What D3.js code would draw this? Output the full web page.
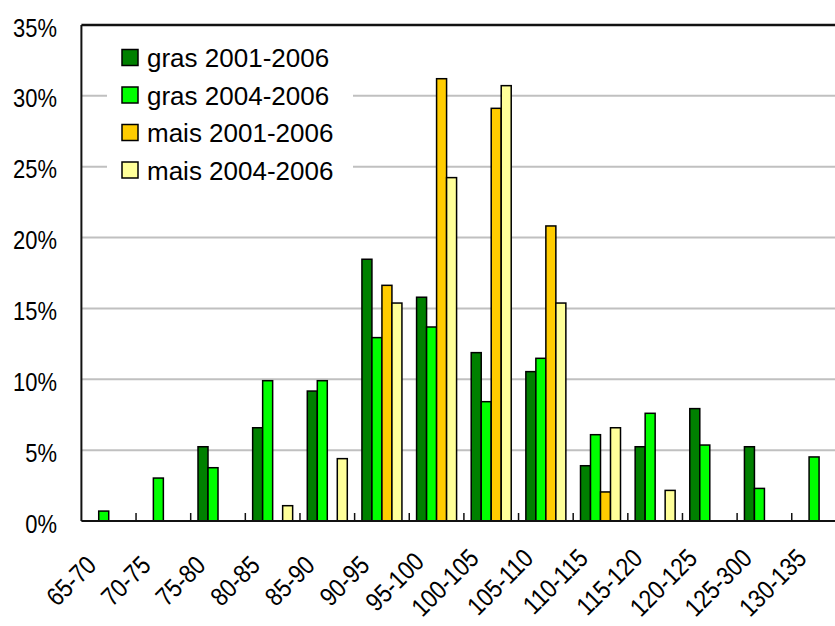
<!DOCTYPE html>
<html>
<head>
<meta charset="utf-8">
<script src="https://cdn.jsdelivr.net/npm/d3@7"></script>
<style>
  html, body { margin: 0; padding: 0; background: #fff; }
  svg { display: block; }
  text { font-family: "Liberation Sans", Arial, sans-serif; fill: #000; }
</style>
</head>
<body>
<svg id="chart" width="835" height="626"></svg>
<script>
// Size classes (index classes)
const categories = ["65-70", "70-75", "75-80", "80-85", "85-90", "90-95", "95-100",
  "100-105", "105-110", "110-115", "115-120", "120-125", "125-300", "130-135"];

const seriesNames = ["gras 2001-2006", "gras 2004-2006", "mais 2001-2006", "mais 2004-2006"];
const seriesColors = ["#008000", "#00ff00", "#ffcc00", "#ffff99"];

// Share of plots per class, in percent
const gras2001 = [0, 0, 5.24, 6.58, 9.17, 18.47, 15.79, 11.88, 10.54, 3.9, 5.24, 7.93, 5.24, 0];
const gras2004 = [0.7, 3.03, 3.76, 9.9, 9.9, 12.94, 13.69, 8.42, 11.48, 6.09, 7.6, 5.36, 2.3, 4.52];
const mais2001 = [0, 0, 0, 0, 0, 16.63, 31.21, 29.12, 20.82, 2.05, 0, 0, 0, 0];
const mais2004 = [0, 0, 0, 1.08, 4.4, 15.38, 24.23, 30.72, 15.38, 6.58, 2.16, 0, 0, 0];

const yTicks = [0, 5, 10, 15, 20, 25, 30, 35];

const seriesValues = [gras2001, gras2004, mais2001, mais2004];

const svg = d3.select("#chart");
const plotLeft = 81.4, plotRight = 846.4, plotTop = 25, plotBottom = 521;

const x = d3.scaleBand().domain(categories).range([plotLeft, plotRight])
  .paddingInner(0.268).paddingOuter(0.134);
const step = x.step();
const xs = d3.scaleBand().domain(seriesNames).range([0, x.bandwidth()]);
const y = d3.scaleLinear().domain([0, 35]).range([plotBottom, plotTop]);

// squeeze axis labels horizontally to a narrower face
function condense(sel, k) {
  sel.each(function () {
    const w = this.getComputedTextLength();
    d3.select(this).attr("textLength", w * k).attr("lengthAdjust", "spacingAndGlyphs");
  });
}

// horizontal gridlines
svg.append("g").selectAll("line")
  .data(yTicks.filter(t => t > 0 && t < 35))
  .join("line")
  .attr("x1", plotLeft).attr("x2", plotRight)
  .attr("y1", d => y(d)).attr("y2", d => y(d))
  .attr("stroke", "#c0c0c0").attr("stroke-width", 2);

// y labels
svg.append("g").selectAll("text")
  .data(yTicks)
  .join("text")
  .attr("x", 57)
  .attr("y", d => y(d) + 11.5)
  .attr("text-anchor", "end")
  .attr("font-size", 25.5)
  .text(d => d + "%")
  .call(condense, 0.86);

// legend (white panel over the gridlines)
const legend = svg.append("g");
legend.append("rect")
  .attr("x", 107).attr("y", 38).attr("width", 246).attr("height", 146)
  .attr("fill", "#fff");
seriesNames.forEach((name, i) => {
  const ty = 49.5 + i * 37.5;
  legend.append("rect")
    .attr("x", 122).attr("y", ty).attr("width", 16).attr("height", 16)
    .attr("fill", seriesColors[i]).attr("stroke", "#000").attr("stroke-width", 1.5);
  legend.append("text")
    .attr("x", 147).attr("y", ty + 17.5)
    .attr("font-size", 26)
    .text(name);
});

// bars
seriesNames.forEach((name, si) => {
  const data = categories.map((c, ci) => ({ c, v: seriesValues[si][ci] })).filter(d => d.v > 0);
  svg.append("g").selectAll("rect")
    .data(data)
    .join("rect")
    .attr("x", d => x(d.c) + xs(name))
    .attr("width", xs.bandwidth())
    .attr("y", d => y(d.v))
    .attr("height", d => y(0) - y(d.v))
    .attr("fill", seriesColors[si])
    .attr("stroke", "#000").attr("stroke-width", 1.5);
});

// frame: top border, left and bottom axes
svg.append("line").attr("x1", plotLeft).attr("x2", plotRight).attr("y1", plotTop).attr("y2", plotTop)
  .attr("stroke", "#111").attr("stroke-width", 2.5);
svg.append("line").attr("x1", plotLeft).attr("x2", plotLeft).attr("y1", plotTop).attr("y2", plotBottom)
  .attr("stroke", "#111").attr("stroke-width", 2);
svg.append("line").attr("x1", plotLeft).attr("x2", plotRight).attr("y1", plotBottom).attr("y2", plotBottom)
  .attr("stroke", "#111").attr("stroke-width", 2);

// category boundary ticks, pointing up into the plot
svg.append("g").selectAll("line")
  .data(categories.slice(1))
  .join("line")
  .attr("x1", d => x(d) - (step - x.bandwidth()) / 2)
  .attr("x2", d => x(d) - (step - x.bandwidth()) / 2)
  .attr("y1", plotBottom).attr("y2", plotBottom - 8)
  .attr("stroke", "#111").attr("stroke-width", 1.5);

// rotated category labels
svg.append("g").selectAll("text")
  .data(categories)
  .join("text")
  .attr("text-anchor", "end")
  .attr("font-size", 26)
  .attr("transform", d => `translate(${x(d) + x.bandwidth() / 2 - 11},${567 - (d.length - 5) * 3.5}) rotate(-45)`)
  .text(d => d)
  .call(condense, 0.86);
</script>
</body>
</html>
